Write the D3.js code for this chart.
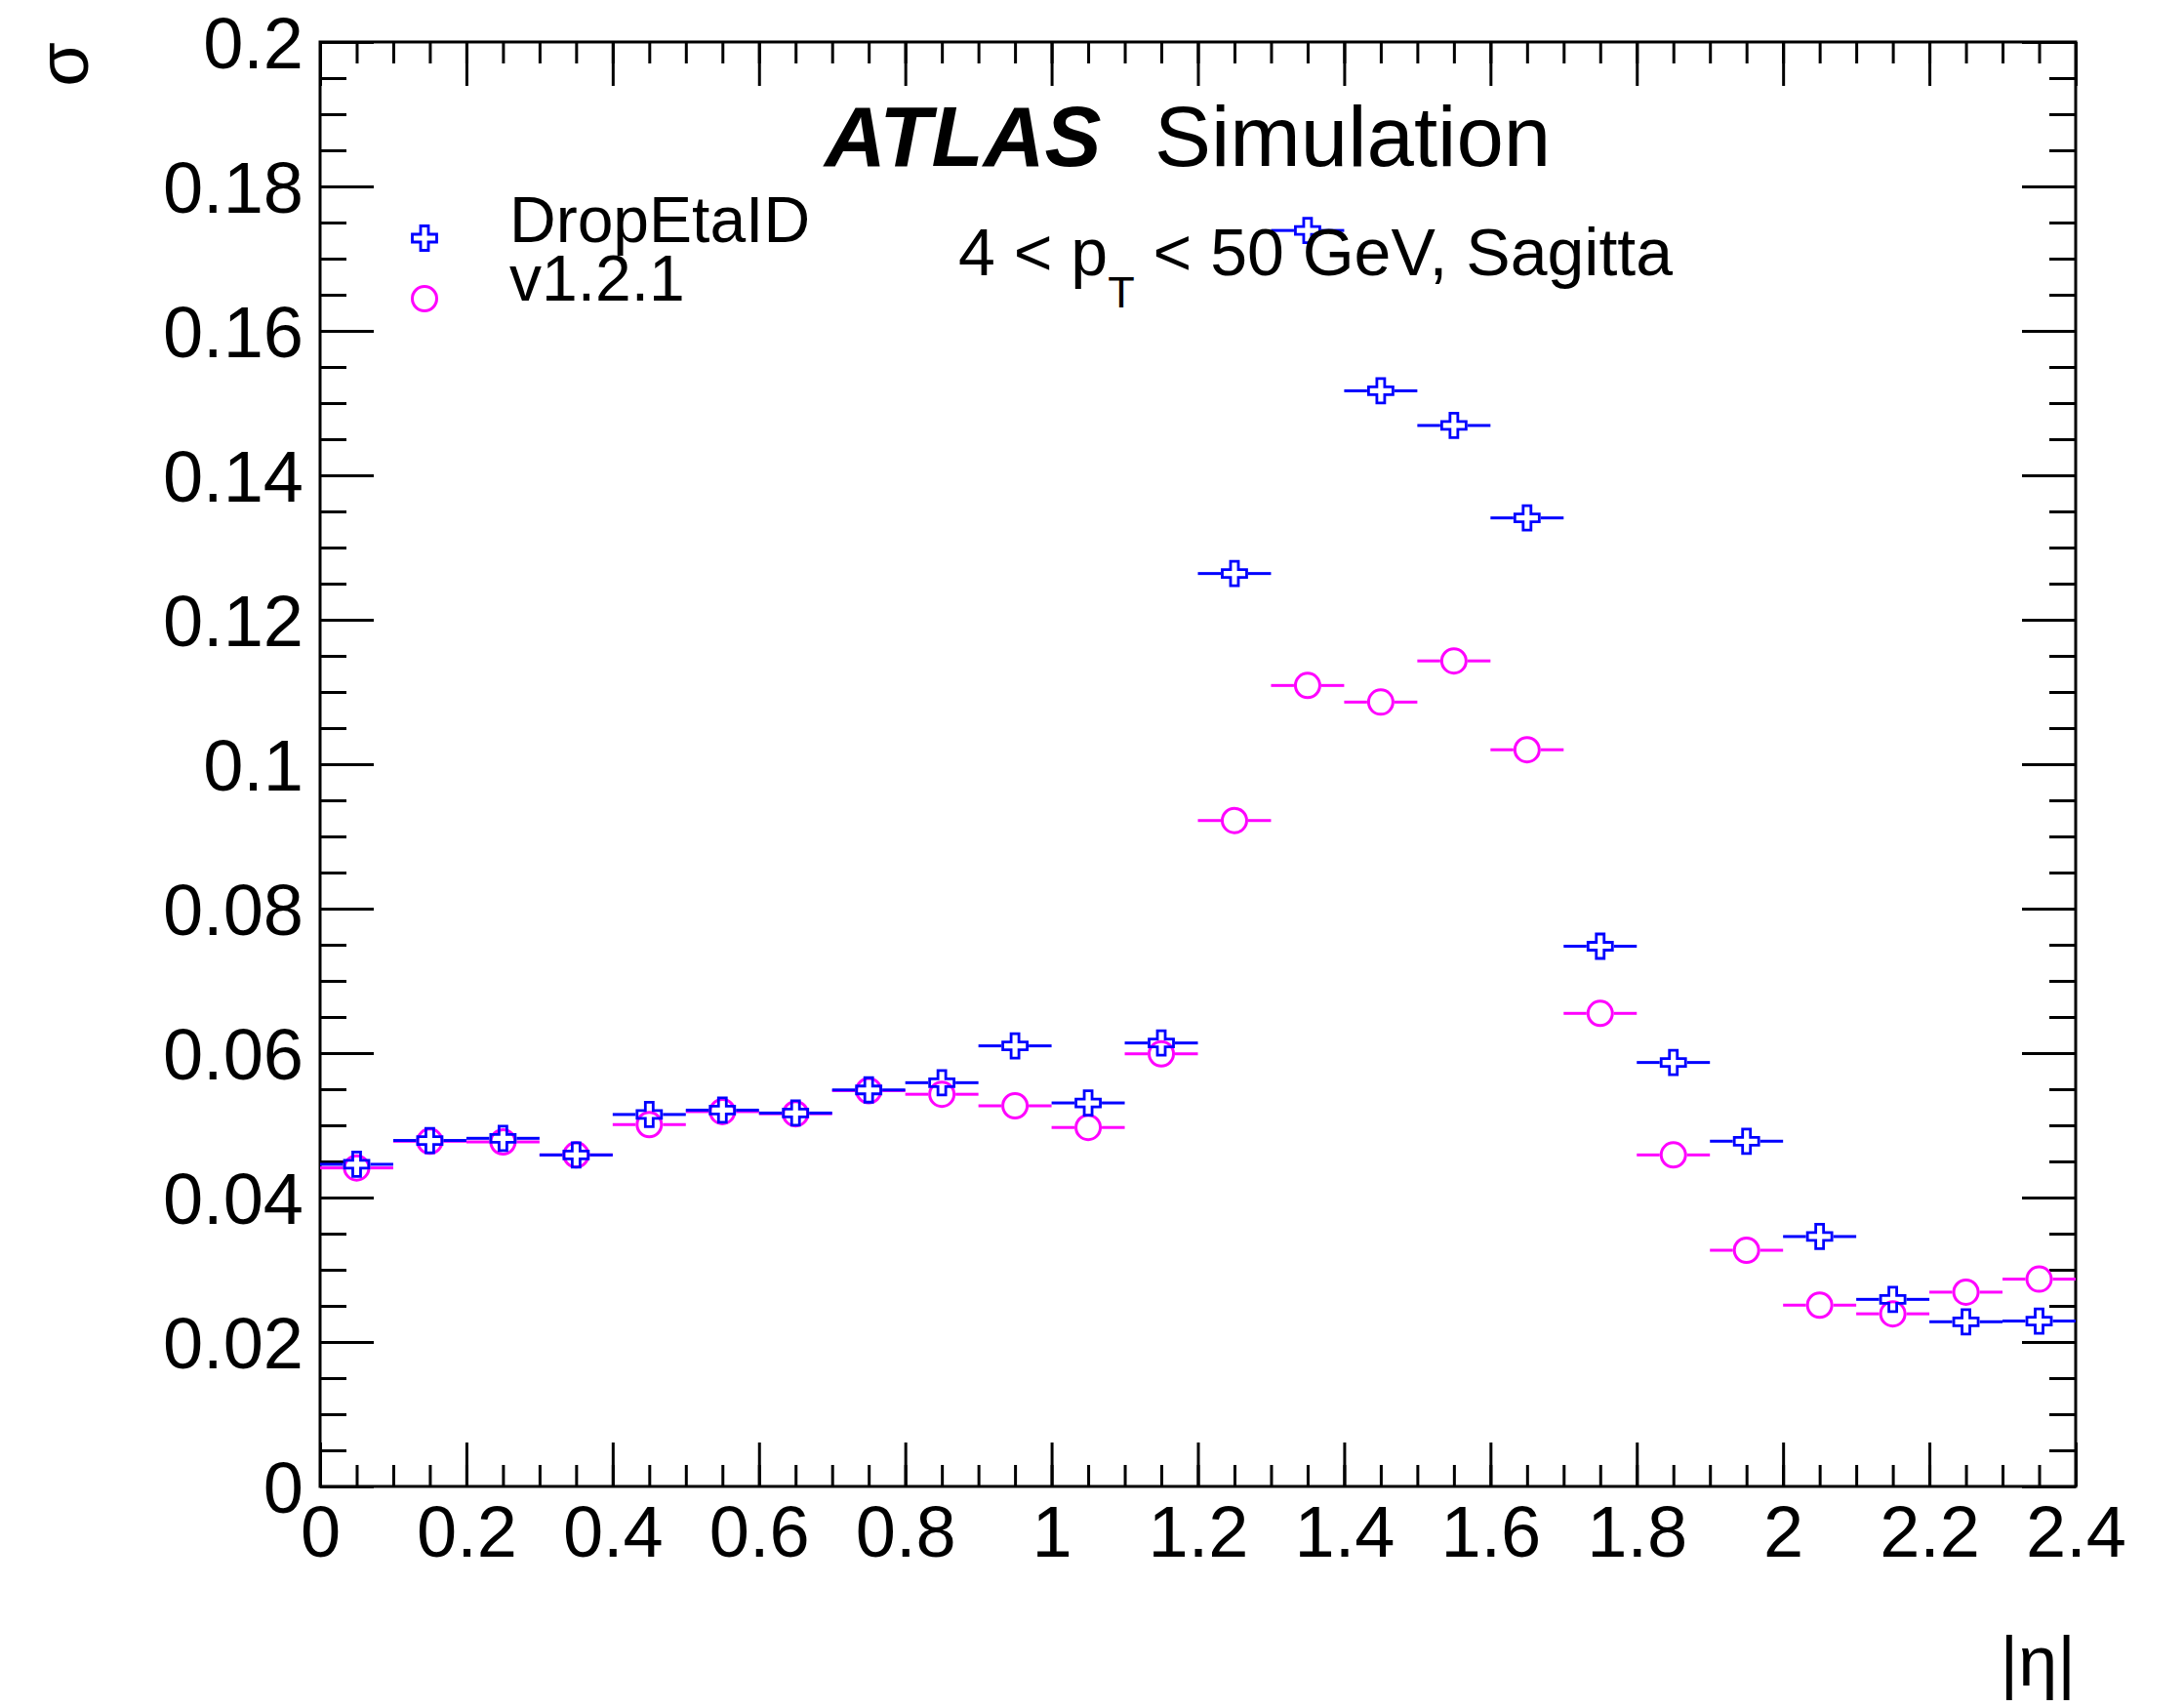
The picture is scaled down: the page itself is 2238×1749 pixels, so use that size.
<!DOCTYPE html>
<html>
<head>
<meta charset="utf-8">
<style>
body { margin: 0; background: #fff; }
text { font-family: "Liberation Sans", Arial, sans-serif; fill: #000; }
.tick line { stroke: #000; stroke-width: 3px; }
</style>
</head>
<body>
<script src="https://cdn.jsdelivr.net/npm/d3@7"></script>
<script>

// |eta| bins (lower edges), width 0.1
var etaLow = [0.0, 0.1, 0.2, 0.3, 0.4, 0.5, 0.6, 0.7, 0.8, 0.9, 1.0, 1.1,
              1.2, 1.3, 1.4, 1.5, 1.6, 1.7, 1.8, 1.9, 2.0, 2.1, 2.2, 2.3];
var binWidth = 0.1;

var dropEtaID = [0.0446, 0.0479, 0.0482, 0.0459, 0.0515, 0.0521, 0.0517, 0.0549,
                 0.0559, 0.0610, 0.0531, 0.0614, 0.1264, 0.1739, 0.1517, 0.1469,
                 0.1341, 0.0748, 0.0587, 0.0478, 0.0346, 0.0259, 0.0228, 0.0229];

var v121 = [0.0441, 0.0478, 0.0477, 0.0459, 0.0501, 0.0519, 0.0516, 0.0548,
            0.0543, 0.0527, 0.0497, 0.0599, 0.0922, 0.1109, 0.1086, 0.1143,
            0.1020, 0.0655, 0.0459, 0.0327, 0.0251, 0.0239, 0.0269, 0.0287];

var seriesNames = ["DropEtaID", "v1.2.1"];

var width = 2238, height = 1749;
var padL = 328, padR = 2127, padT = 43, padB = 1523;

var svg = d3.select("body").append("svg")
    .attr("width", width)
    .attr("height", height);

svg.append("rect").attr("width", width).attr("height", height).attr("fill", "#fff");

var x = d3.scaleLinear().domain([0, 2.4]).range([padL, padR]);
var y = d3.scaleLinear().domain([0, 0.2]).range([padB, padT]);

var fmt = d3.format("~g");

// axes: ticks point inwards, major + minor
function drawAxis(axisFn, scale, pos, major, minor, majLen, minLen, labels) {
  var gMin = svg.append("g").attr("transform", pos)
      .call(axisFn(scale).tickValues(scale.ticks(minor)).tickSize(-minLen).tickFormat(""));
  gMin.select(".domain").remove();
  var gMaj = svg.append("g").attr("transform", pos)
      .call(axisFn(scale).tickValues(scale.ticks(major)).tickSize(-majLen)
        .tickFormat(labels ? fmt : ""));
  gMaj.select(".domain").remove();
  return gMaj;
}

var xb = drawAxis(d3.axisBottom, x, "translate(0," + padB + ")", 12, 48, 45, 22, true);
drawAxis(d3.axisTop, x, "translate(0," + padT + ")", 12, 48, 45, 22, false);
var yl = drawAxis(d3.axisLeft, y, "translate(" + padL + ",0)", 10, 40, 55, 27, true);
drawAxis(d3.axisRight, y, "translate(" + padR + ",0)", 10, 40, 55, 27, false);

xb.selectAll("text")
    .attr("font-size", 74)
    .attr("font-family", "Liberation Sans, Arial, sans-serif")
    .attr("y", 0).attr("dy", 0)
    .attr("transform", "translate(0,72)");

yl.selectAll("text")
    .attr("font-size", 74)
    .attr("font-family", "Liberation Sans, Arial, sans-serif")
    .attr("x", -17).attr("dy", "0.36em");

svg.append("rect")
    .attr("x", padL).attr("y", padT)
    .attr("width", padR - padL).attr("height", padB - padT)
    .attr("fill", "none").attr("stroke", "#000").attr("stroke-width", 3);

// axis titles
svg.append("text")
    .attr("transform", "translate(90," + padT + ") rotate(-90)")
    .attr("text-anchor", "end")
    .attr("font-size", 74)
    .text("σ");

svg.append("text")
    .attr("x", padR).attr("y", 1727)
    .attr("text-anchor", "end")
    .attr("font-size", 72)
    .text("|η|");

// markers
var R = 12.5;
function crossPath(h, a) {
  return "M" + (-a) + "," + (-h) + "H" + a + "V" + (-a) + "H" + h + "V" + a + "H" + a +
         "V" + h + "H" + (-a) + "V" + a + "H" + (-h) + "V" + (-a) + "H" + (-a) + "Z";
}

function drawSeries(values, color, marker) {
  var rows = etaLow.map(function(lo, i) { return {lo: lo, v: values[i]}; });
  var g = svg.append("g");
  var gap = R + 1.5;
  g.selectAll("line.l").data(rows).enter().append("line")
      .attr("x1", function(d) { return x(d.lo); })
      .attr("x2", function(d) { return x(d.lo + binWidth / 2) - gap; })
      .attr("y1", function(d) { return y(d.v); })
      .attr("y2", function(d) { return y(d.v); })
      .attr("stroke", color).attr("stroke-width", 3);
  g.selectAll("line.r").data(rows).enter().append("line")
      .attr("x1", function(d) { return x(d.lo + binWidth / 2) + gap; })
      .attr("x2", function(d) { return x(d.lo + binWidth); })
      .attr("y1", function(d) { return y(d.v); })
      .attr("y2", function(d) { return y(d.v); })
      .attr("stroke", color).attr("stroke-width", 3);
  var m = g.selectAll("g.m").data(rows).enter().append("g")
      .attr("transform", function(d) { return "translate(" + x(d.lo + binWidth / 2) + "," + y(d.v) + ")"; });
  marker(m, color);
}

function circleMarker(sel, color) {
  sel.append("circle").attr("r", R).attr("fill", "none")
      .attr("stroke", color).attr("stroke-width", 3);
}
function crossMarker(sel, color) {
  sel.append("path").attr("d", crossPath(R, 4)).attr("fill", "none")
      .attr("stroke", color).attr("stroke-width", 2.8);
}

drawSeries(v121, "#ff00ff", circleMarker);
drawSeries(dropEtaID, "#0000ff", crossMarker);

// labels
var atlas = svg.append("text").attr("x", 845).attr("y", 170).attr("font-size", 87);
atlas.append("tspan").attr("font-weight", "bold").attr("font-style", "italic").text("ATLAS");
svg.append("text").attr("x", 1183).attr("y", 170).attr("font-size", 87).text("Simulation");

var pt = svg.append("text").attr("x", 982).attr("y", 282).attr("font-size", 68);
pt.append("tspan").text("4 < p");
pt.append("tspan").attr("font-size", 45).attr("dy", 33).text("T");
pt.append("tspan").attr("dy", -33).text(" < 50 GeV, Sagitta");

// legend
var leg = svg.append("g");
crossMarker(leg.append("g").attr("transform", "translate(435,244)"), "#0000ff");
circleMarker(leg.append("g").attr("transform", "translate(435,306)"), "#ff00ff");
leg.append("text").attr("x", 522).attr("y", 248).attr("font-size", 66).text(seriesNames[0]);
leg.append("text").attr("x", 522).attr("y", 308).attr("font-size", 66).text(seriesNames[1]);

</script>
</body>
</html>
